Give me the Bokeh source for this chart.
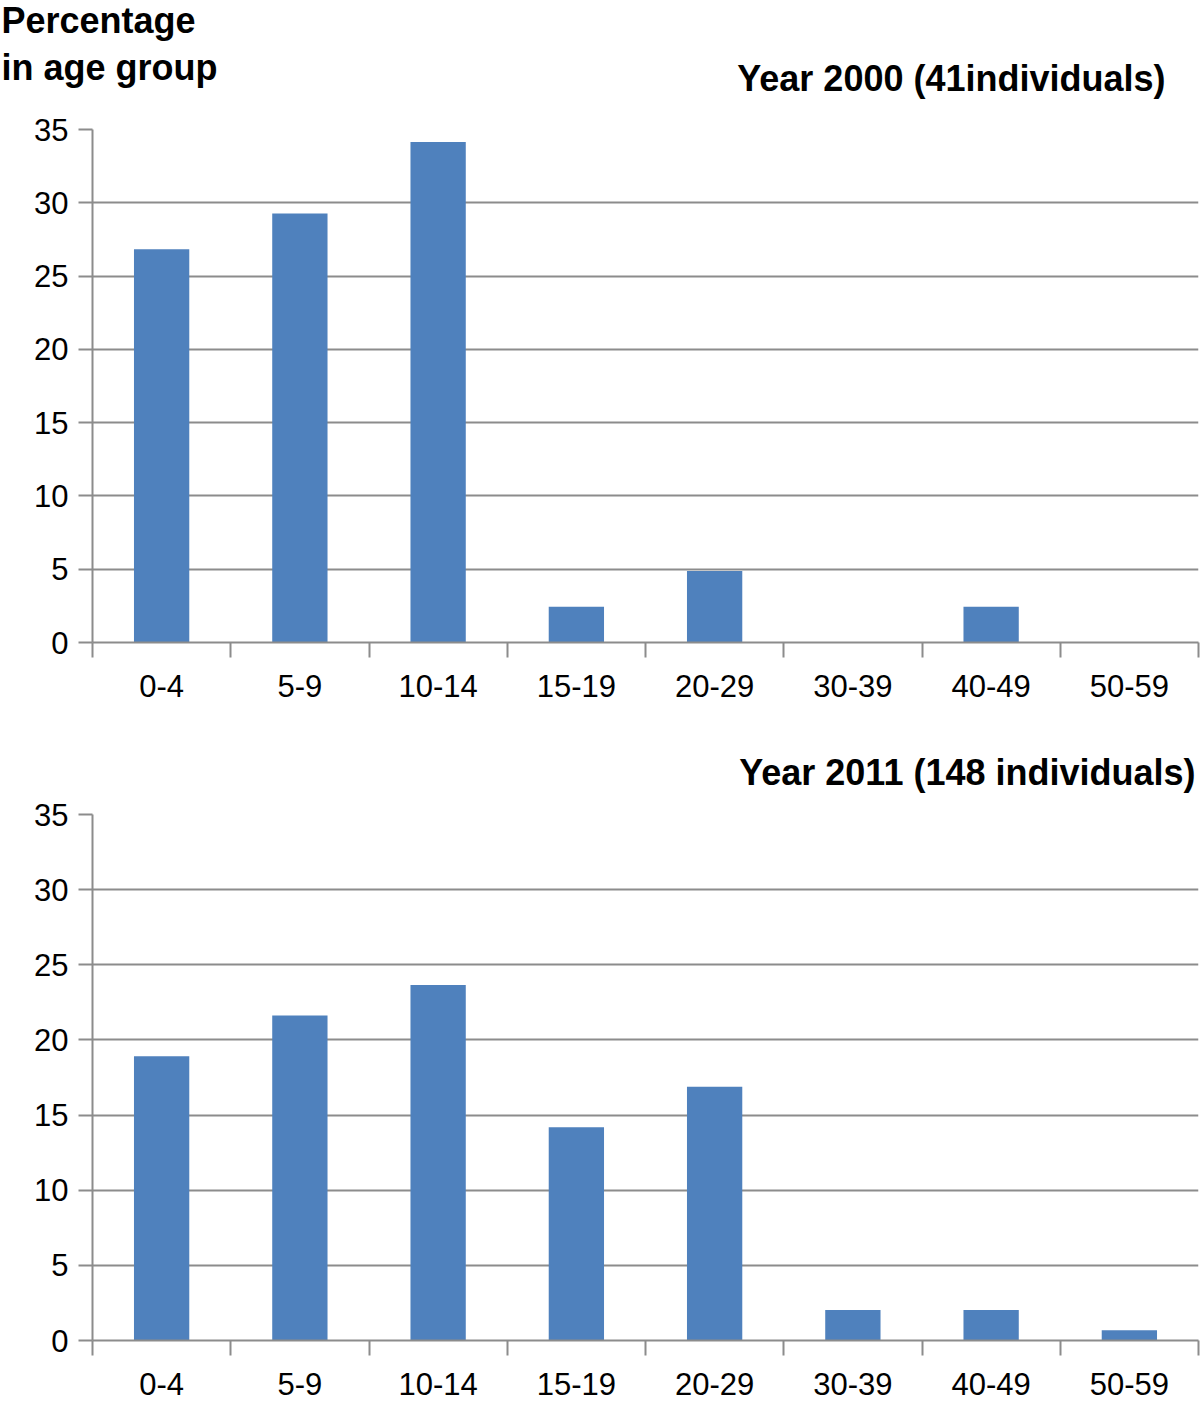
from bokeh.plotting import figure
from bokeh.models import (Range1d, FixedTicker, Label)
from bokeh.layouts import column
from bokeh.embed import file_html
from bokeh.resources import INLINE

categories = ["0-4", "5-9", "10-14", "15-19", "20-29", "30-39", "40-49", "50-59"]
pct_2000 = [26.83, 29.27, 34.15, 2.44, 4.88, 0.0, 2.44, 0.0]
pct_2011 = [18.92, 21.62, 23.65, 14.19, 16.89, 2.03, 2.03, 0.68]
y_ticks = [0, 5, 10, 15, 20, 25, 30, 35]
title_2000 = "Year 2000 (41individuals)"
title_2011 = "Year 2011 (148 individuals)"
y_title_lines = ["Percentage", "in age group"]

BAR = "#4F81BD"
GRID = "#8C8C8C"
FONT = "Liberation Sans"
W = 1200


def header(height, labels):
    h = figure(width=W, height=height, x_range=Range1d(0, W), y_range=Range1d(0, height),
               output_backend="svg", toolbar_location=None, min_border=0,
               x_axis_location=None, y_axis_location=None, outline_line_color=None)
    h.frame_align = False
    h.title.visible = False
    h.xgrid.visible = False
    h.ygrid.visible = False
    for (x, yc, txt, align) in labels:
        h.add_layout(Label(x=x, y=height - yc, text=txt, text_font=FONT,
                           text_font_style="bold", text_font_size="36px",
                           text_align=align, text_baseline="middle", text_color="black"))
    return h


def chart(values, height, top, bottom):
    n = len(categories)
    centers = [i + 0.5 for i in range(n)]
    p = figure(width=W, height=height, x_range=Range1d(0, n),
               y_range=Range1d(0, 35), output_backend="svg", toolbar_location=None,
               min_border_left=92, min_border_right=2,
               min_border_top=top, min_border_bottom=bottom, outline_line_color=None)
    p.title.visible = False
    p.vbar(x=centers, top=values, width=0.4, color=BAR, line_color=None)

    xa = p.xaxis[0]
    xa.ticker = FixedTicker(ticks=centers, minor_ticks=list(range(n + 1)))
    xa.major_label_overrides = {c: lab for c, lab in zip(centers, categories)}
    xa.major_tick_out = 0
    xa.major_tick_in = 0
    xa.minor_tick_out = 15
    xa.minor_tick_in = 0
    xa.minor_tick_line_color = GRID
    xa.minor_tick_line_width = 2
    xa.axis_line_color = GRID
    xa.axis_line_width = 2
    xa.major_label_text_font = FONT
    xa.major_label_text_font_size = "31px"
    xa.major_label_text_color = "black"
    xa.major_label_standoff = 17

    ya = p.yaxis[0]
    ya.ticker = FixedTicker(ticks=y_ticks)
    ya.major_tick_out = 14
    ya.major_tick_in = 0
    ya.minor_tick_out = 0
    ya.minor_tick_in = 0
    ya.major_tick_line_color = GRID
    ya.major_tick_line_width = 2
    ya.axis_line_color = GRID
    ya.axis_line_width = 2
    ya.major_label_text_font = FONT
    ya.major_label_text_font_size = "31px"
    ya.major_label_text_color = "black"
    ya.major_label_standoff = 10

    p.xgrid.visible = False
    p.ygrid.ticker = FixedTicker(ticks=y_ticks)
    p.ygrid.grid_line_color = GRID
    p.ygrid.grid_line_width = 2
    return p


h1 = header(100, [(1, 20, y_title_lines[0], "left"),
                  (1, 67, y_title_lines[1], "left"),
                  (1165, 78, title_2000, "right")])
c1 = chart(pct_2000, 618, 29, 76)
h2 = header(76, [(1195, 54, title_2011, "right")])
c2 = chart(pct_2011, 609, 20, 63)

layout = column(h1, c1, h2, c2, spacing=0)
open("out.html", "w").write(file_html(layout, INLINE))
